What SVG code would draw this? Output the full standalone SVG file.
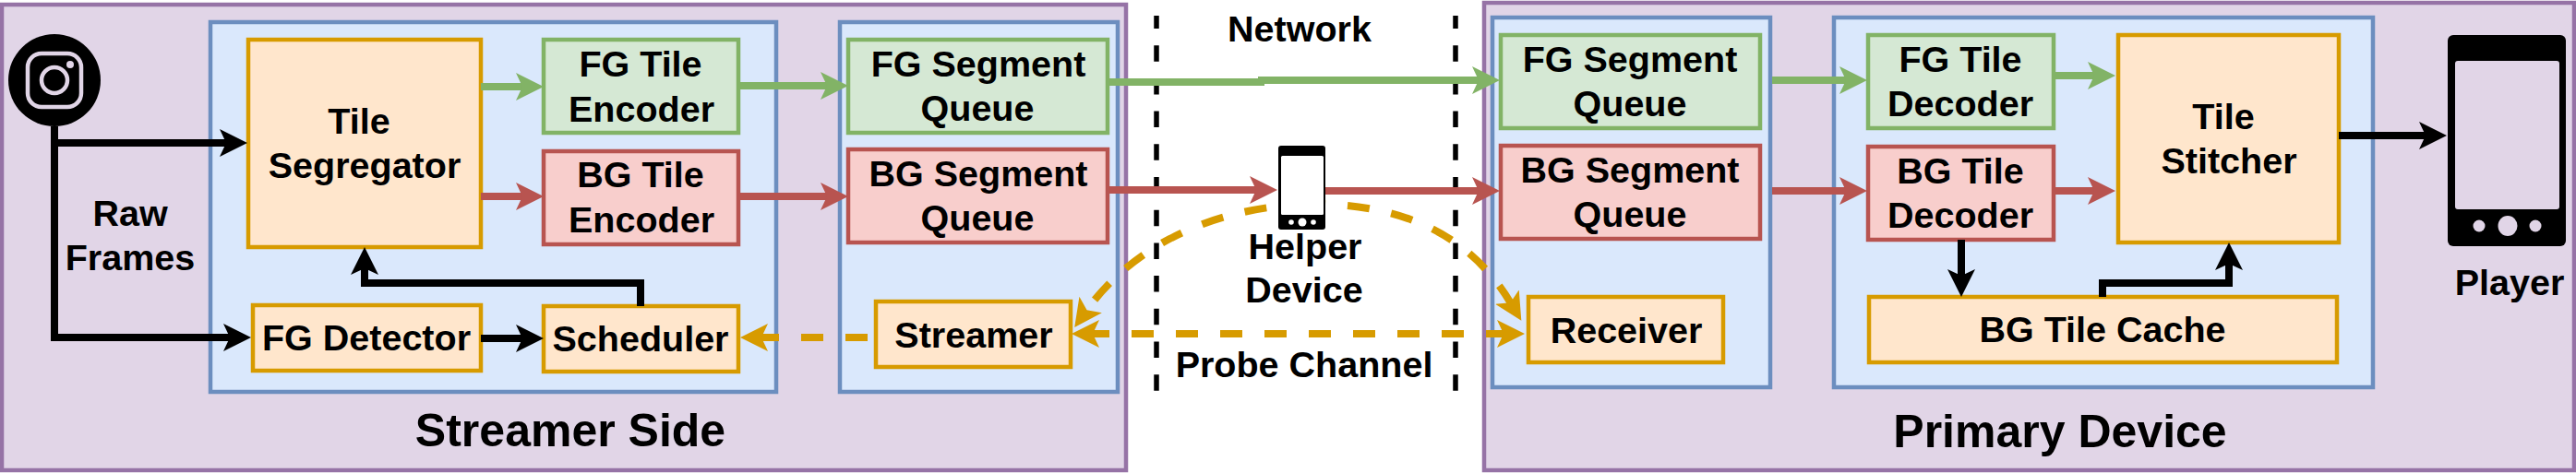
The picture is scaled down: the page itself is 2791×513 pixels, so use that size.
<svg xmlns="http://www.w3.org/2000/svg" width="2791" height="513" viewBox="0 0 2791 513">
<style>
text{font-family:"Liberation Sans",Arial,sans-serif;font-weight:700;font-size:39.5px;fill:#000;text-anchor:middle}
.big{font-size:50px}
.panel{fill:#e1d5e7;stroke:#9673a6;stroke-width:4.5}
.sub{fill:#dae8fc;stroke:#6c8ebf;stroke-width:4.5}
.g{fill:#d5e8d4;stroke:#82b366;stroke-width:4.5}
.r{fill:#f8cecc;stroke:#b85450;stroke-width:4.5}
.o{fill:#ffe6cc;stroke:#d79b00;stroke-width:4.5}
.c{fill:none;stroke-width:8}
.kk{stroke:#000;marker-end:url(#ak)}
.cg{stroke:#82b366;marker-end:url(#ag)}
.cr{stroke:#b85450;marker-end:url(#ar)}
.cy{stroke:#d79b00;stroke-dasharray:24 24}
.sep{fill:none;stroke:#000;stroke-width:5.5;stroke-dasharray:17.5 18.2;stroke-dashoffset:3.5}
</style>
<defs>
<marker id="ak" markerUnits="userSpaceOnUse" markerWidth="30" markerHeight="30" viewBox="0 0 30 30" refX="8" refY="15" orient="auto-start-reverse"><path d="M0 0L30 15L0 30L7 15Z" fill="#000"/></marker>
<marker id="ag" markerUnits="userSpaceOnUse" markerWidth="30" markerHeight="30" viewBox="0 0 30 30" refX="8" refY="15" orient="auto-start-reverse"><path d="M0 0L30 15L0 30L7 15Z" fill="#82b366"/></marker>
<marker id="ar" markerUnits="userSpaceOnUse" markerWidth="30" markerHeight="30" viewBox="0 0 30 30" refX="8" refY="15" orient="auto-start-reverse"><path d="M0 0L30 15L0 30L7 15Z" fill="#b85450"/></marker>
<marker id="ay" markerUnits="userSpaceOnUse" markerWidth="30" markerHeight="30" viewBox="0 0 30 30" refX="8" refY="15" orient="auto-start-reverse"><path d="M0 0L30 15L0 30L7 15Z" fill="#d79b00"/></marker>
</defs>
<rect width="2791" height="513" fill="#fff"/>
<g id="streamer-side"><rect class="panel" x="2" y="5" width="1218" height="505"/><text class="big" x="618" y="484">Streamer Side</text></g>
<g id="primary-device"><rect class="panel" x="1608" y="3" width="1181" height="507"/><text class="big" x="2232" y="485">Primary Device</text></g>
<rect class="sub" x="228" y="24" width="613" height="401"/>
<rect class="sub" x="910" y="24" width="301" height="401"/>
<rect class="sub" x="1617" y="19" width="301" height="401"/>
<rect class="sub" x="1987" y="19" width="584" height="401"/>
<g id="separators"><path class="sep" d="M1253 17V426"/><path class="sep" d="M1577 17V428"/></g>
<text x="1408" y="45">Network</text>
<g id="helper-label"><text x="1414" y="281">Helper</text><text x="1413" y="328">Device</text></g>
<text x="1413" y="409">Probe Channel</text>
<g id="camera">
<ellipse cx="59" cy="87" rx="50" ry="50" fill="#000"/>
<rect x="30" y="58" width="58" height="58" rx="15" fill="none" stroke="#e1d5e7" stroke-width="4.5"/>
<circle cx="59" cy="87" r="14" fill="none" stroke="#e1d5e7" stroke-width="4.5"/>
<circle cx="76" cy="70" r="4" fill="#e1d5e7"/>
</g>
<text x="141" y="245">Raw</text><text x="141" y="293">Frames</text>
<g id="tile-segregator"><rect class="o" x="269" y="43" width="252" height="225"/><text x="389" y="145">Tile</text><text x="395" y="193">Segregator</text></g>
<g id="fg-tile-encoder"><rect class="g" x="589" y="43" width="211" height="101"/><text x="694" y="83">FG Tile</text><text x="695" y="132">Encoder</text></g>
<g id="bg-tile-encoder"><rect class="r" x="589" y="164" width="211" height="101"/><text x="694" y="203">BG Tile</text><text x="695" y="252">Encoder</text></g>
<g id="fg-detector"><rect class="o" x="274" y="331" width="247" height="71"/><text x="397" y="380">FG Detector</text></g>
<g id="scheduler"><rect class="o" x="589" y="332" width="211" height="71"/><text x="694" y="381">Scheduler</text></g>
<g id="fg-segment-queue-s"><rect class="g" x="919" y="43" width="281" height="101"/><text x="1060" y="83">FG Segment</text><text x="1059" y="131">Queue</text></g>
<g id="bg-segment-queue-s"><rect class="r" x="919" y="162" width="281" height="101"/><text x="1060" y="202">BG Segment</text><text x="1059" y="250">Queue</text></g>
<g id="streamer"><rect class="o" x="949" y="327" width="211" height="71"/><text x="1055" y="377">Streamer</text></g>
<g id="fg-segment-queue-p"><rect class="g" x="1626" y="38" width="281" height="101"/><text x="1766" y="78">FG Segment</text><text x="1766" y="126">Queue</text></g>
<g id="bg-segment-queue-p"><rect class="r" x="1626" y="158" width="281" height="101"/><text x="1766" y="198">BG Segment</text><text x="1766" y="246">Queue</text></g>
<g id="receiver"><rect class="o" x="1656" y="322" width="211" height="71"/><text x="1762" y="372">Receiver</text></g>
<g id="fg-tile-decoder"><rect class="g" x="2024" y="38" width="201" height="101"/><text x="2124" y="78">FG Tile</text><text x="2124" y="126">Decoder</text></g>
<g id="bg-tile-decoder"><rect class="r" x="2024" y="159" width="201" height="101"/><text x="2124" y="199">BG Tile</text><text x="2124" y="247">Decoder</text></g>
<g id="bg-tile-cache"><rect class="o" x="2025" y="322" width="507" height="71"/><text x="2278" y="371">BG Tile Cache</text></g>
<g id="tile-stitcher"><rect class="o" x="2295" y="38" width="239" height="225"/><text x="2409" y="140">Tile</text><text x="2415" y="188">Stitcher</text></g>
<g id="connectors">
<path class="c kk" d="M59 137V155H246"/>
<path class="c kk" d="M59 150V366H250"/>
<path class="c cg" d="M521 94H567"/>
<path class="c cr" d="M521 213H567"/>
<path class="c cg" d="M800 93H897"/>
<path class="c cr" d="M800 213H897"/>
<path class="c kk" d="M521 367H567"/>
<path class="c kk" d="M694 332V307H395V290"/>
<path class="c" stroke="#82b366" d="M1200 89H1370"/>
<path class="c cg" d="M1363 87H1603"/>
<path class="c cr" d="M1200 206H1362"/>
<path class="c cr" d="M1436 207H1603"/>
<path class="c cg" d="M1920 87H2001"/>
<path class="c cr" d="M1920 207H2001"/>
<path class="c cg" d="M2225 82H2270"/>
<path class="c cr" d="M2225 207H2270"/>
<path class="c kk" d="M2534 147H2629"/>
<path class="c kk" d="M2125 260V300"/>
<path class="c kk" d="M2278 322V307H2415V285"/>
<path class="c cy" d="M1183 362H1630" stroke-dashoffset="5" marker-start="url(#ay)" marker-end="url(#ay)"/>
<path class="c cy" d="M940 366H824" marker-end="url(#ay)"/>
<path class="c cy" d="M1420 221C1285 226 1212 288 1177 337" marker-end="url(#ay)"/>
<path class="c cy" d="M1420 221C1520 221 1592 254 1637 329" stroke-dashoffset="8" marker-end="url(#ay)"/>
</g>
<g id="helper-device">
<rect x="1385" y="158" width="51" height="91" rx="3" fill="#000"/>
<rect x="1388" y="169" width="46" height="64" rx="1.5" fill="#fff"/>
<circle cx="1411" cy="241" r="4.5" fill="#fff"/><circle cx="1399" cy="241" r="2.8" fill="#fff"/><circle cx="1423" cy="241" r="2.8" fill="#fff"/>
</g>
<g id="player">
<rect x="2652" y="38" width="128" height="229" rx="6" fill="#000"/>
<rect x="2660" y="66" width="113" height="161" rx="3" fill="#e1d5e7"/>
<ellipse cx="2717" cy="245" rx="10.5" ry="11" fill="#e1d5e7"/><circle cx="2686" cy="245" r="6.5" fill="#e1d5e7"/><circle cx="2747" cy="245" r="6.5" fill="#e1d5e7"/>
<text x="2719" y="320">Player</text>
</g>
</svg>
